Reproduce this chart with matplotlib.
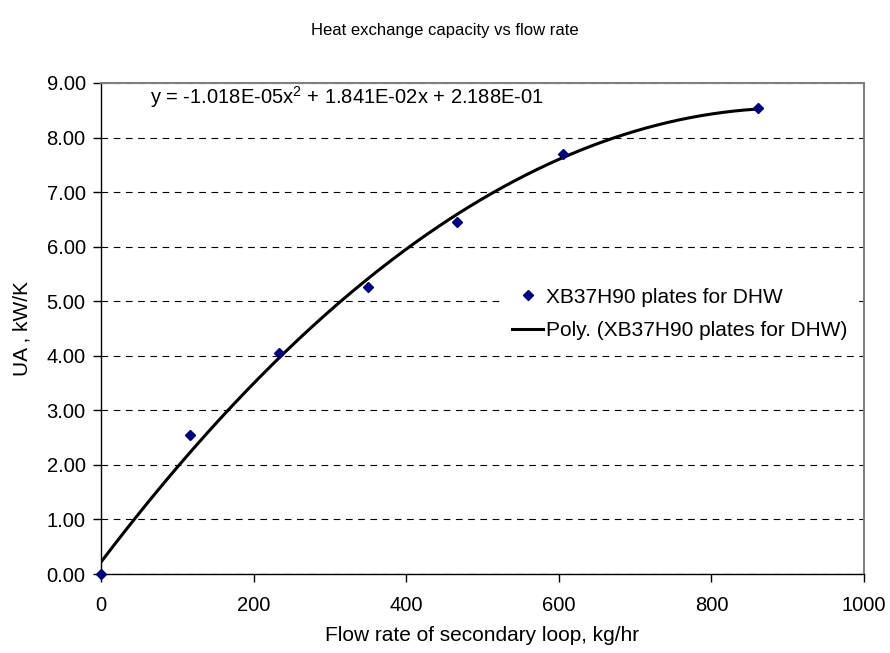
import numpy as np
import matplotlib
matplotlib.use("Agg")
import matplotlib.pyplot as plt

plt.rcParams['font.family'] = ['Liberation Sans', 'DejaVu Sans']
plt.rcParams['mathtext.fontset'] = 'custom'
plt.rcParams['mathtext.rm'] = 'Liberation Sans'
plt.rcParams['mathtext.it'] = 'Liberation Sans'
plt.rcParams['mathtext.default'] = 'regular'

# Measured heat exchange capacity
flow_rate = [0, 117, 233, 350, 467, 605, 861]          # kg/hr
ua_value = [0.00, 2.55, 4.06, 5.26, 6.46, 7.70, 8.55]  # kW/K

# Second-order polynomial trend: a*x^2 + b*x + c
poly_a = -1.018e-05
poly_b = 1.841e-02
poly_c = 2.188e-01

series_label = "XB37H90 plates for DHW"
trend_label = "Poly. (XB37H90 plates for DHW)"
equation_text = "y = -1.018E-05x$^{2}$ + 1.841E-02x + 2.188E-01"

x_ticks = [0, 200, 400, 600, 800, 1000]
y_ticks = [0, 1, 2, 3, 4, 5, 6, 7, 8, 9]

fig = plt.figure(figsize=(8.9, 6.53), dpi=100)
ax = fig.add_axes([101 / 890, 1 - 574 / 653, 763 / 890, 491 / 653])

xs = np.linspace(min(flow_rate), max(flow_rate), 300)
ys = poly_a * xs ** 2 + poly_b * xs + poly_c

ax.plot(flow_rate, ua_value, linestyle='none', marker='D', markersize=5,
        color='#000080', label=series_label, zorder=4, clip_on=False)
ax.plot(xs, ys, color='black', linewidth=2.2, label=trend_label, zorder=3)

ax.set_xlim(0, 1000)
ax.set_ylim(0, 9)
ax.set_xticks(x_ticks)
ax.set_yticks(y_ticks)
ax.set_yticklabels([f"{v:.2f}" for v in y_ticks])
ax.tick_params(axis='both', direction='out', length=6, width=1, labelsize=14.5,
               colors='black')
ax.tick_params(axis='x', pad=10)
ax.tick_params(axis='y', pad=5)

ax.yaxis.grid(True, linestyle=(0, (6, 5)), color='black', linewidth=0.8)
ax.set_axisbelow(True)

for side in ('left', 'bottom'):
    ax.spines[side].set_color('black')
    ax.spines[side].set_linewidth(1)
for side in ('top', 'right'):
    ax.spines[side].set_color('#808080')
    ax.spines[side].set_linewidth(1.5)

ax.set_xlabel("Flow rate of secondary loop, kg/hr", fontsize=15, labelpad=8)
ax.set_ylabel("UA , kW/K", fontsize=15, labelpad=11)
fig.text(0.5, 1 - 30 / 653, "Heat exchange capacity vs flow rate",
         ha='center', va='center', fontsize=12)

ax.text(64, 8.74, equation_text, fontsize=14.5, ha='left', va='center')

# Legend sits on a plain white box that hides the gridlines behind it
leg = ax.legend(loc='upper left', bbox_to_anchor=(0.528, 0.60), frameon=True,
                facecolor='white', edgecolor='none', framealpha=1,
                fancybox=False, fontsize=15, handlelength=1.5,
                handletextpad=0.1, labelspacing=0.7, borderaxespad=0,
                borderpad=0.4)
leg.set_zorder(5)

fig.savefig("out.png", dpi=100)
